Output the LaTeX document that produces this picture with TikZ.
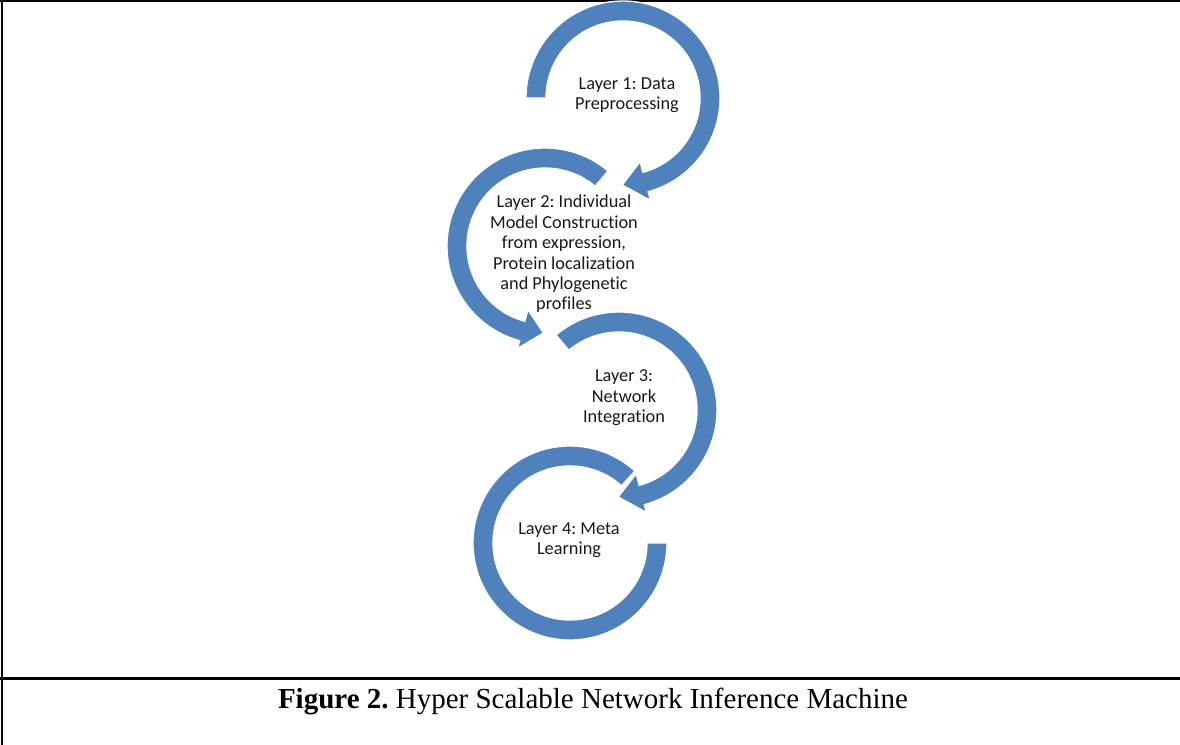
\documentclass[tikz,border=0pt]{standalone}
\usepackage{fontspec}
\setmainfont{Carlito}[Ligatures={NoCommon}]
\newfontfamily\capfont{Liberation Serif}
\definecolor{ringblue}{RGB}{79,129,189}
\frenchspacing
\begin{document}
\begin{tikzpicture}[x=1pt,y=1pt,
  ring/.style={fill=ringblue,draw=white,line width=1.3pt,line join=miter},
  label/.style={align=center,inner sep=0pt,font=\fontsize{18.3}{20.4}\selectfont,text=black!90},
  frame/.style={draw=black,line cap=rect}]
\useasboundingbox (0,0) rectangle (1180,744);
% frame lines
\draw[frame,line width=1.8pt] (0,743.2) -- (1180,743.2);
\draw[frame,line width=2pt] (2,0) -- (2,744);
\draw[frame,line width=2.5pt] (0,65.7) -- (1180,65.7);
% centres
\coordinate (c1) at (623,646);
\coordinate (c2) at (545,498);
\coordinate (c3) at (619,334);
\coordinate (c4) at (570,201);
% ring 1 (clockwise, head at bottom)
\begin{scope}[shift={(c1)}]
\path[ring] (180:97pt) arc[start angle=180,end angle=-75,radius=97pt]
  -- (-75:106pt) -- (-90.5:87pt) -- (-75:66pt) -- (-75:77pt)
  arc[start angle=-75,end angle=180,radius=77pt] -- cycle;
\end{scope}
% ring 2 (counter-clockwise, head at bottom)
\begin{scope}[shift={(c2)}]
\path[ring] (50:98pt) arc[start angle=50,end angle=255,radius=98pt]
  -- (255:106pt) -- (269:87pt) -- (255:66pt) -- (255:78pt)
  arc[start angle=255,end angle=50,radius=78pt] -- cycle;
\end{scope}
% ring 3 (clockwise, head at bottom)
\begin{scope}[shift={(c3)}]
\path[ring] (130:98pt) arc[start angle=130,end angle=-75,radius=98pt]
  -- (-75:106pt) -- (-90.5:87pt) -- (-75:66pt) -- (-75:78pt)
  arc[start angle=-75,end angle=130,radius=78pt] -- cycle;
\end{scope}
% ring 4 (counter-clockwise, flat end)
\begin{scope}[shift={(c4)}]
\path[ring] (48:97pt) arc[start angle=48,end angle=360,radius=97pt]
  -- (0:77pt) arc[start angle=360,end angle=48,radius=77pt] -- cycle;
\end{scope}
% labels
\node[label] (t1) at (627,649) {Layer 1: Data\\Preprocessing};
\node[label] (t2) at (564,490) {Layer 2: Individual\\Model Construction\\from expression,\\Protein localization\\and Phylogenetic\\profiles};
\node[label] (t3) at (624,346) {Layer 3:\\Network\\Integration};
\node[label] (t4) at (569,204) {Layer 4: Meta\\Learning};
% caption
\node[anchor=base,inner sep=0pt,font=\capfont\fontsize{29}{32}\selectfont] (cap) at (593,36)
  {\textbf{Figure 2.} Hyper Scalable Network Inference Machine};
\end{tikzpicture}
\end{document}
